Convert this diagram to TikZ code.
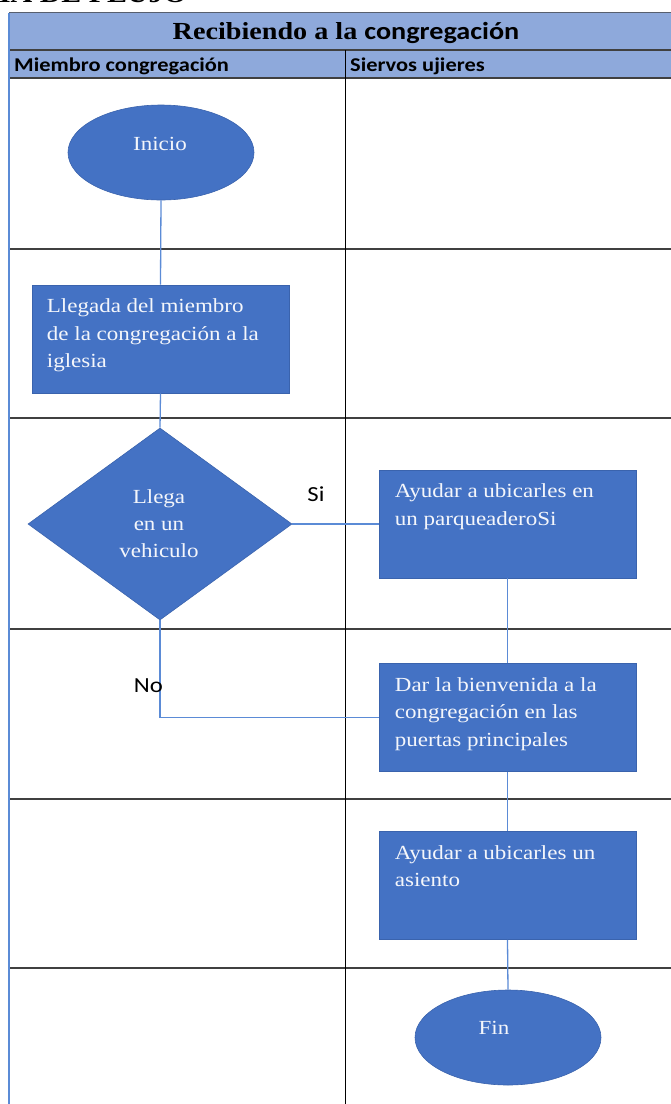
\documentclass[tikz,border=0pt]{standalone}
\usepackage{fontspec}
\setmainfont[FakeStretch=1.15]{Liberation Serif}
\newfontfamily\calibri[FakeStretch=1.15]{Carlito}
\usetikzlibrary{shapes.geometric}
\definecolor{shapeblue}{HTML}{4472C4}
\definecolor{shapeedge}{HTML}{3A63AD}
\definecolor{connblue}{HTML}{5B8BD6}
\definecolor{headblue}{HTML}{8EA9DB}
\definecolor{rowgray}{HTML}{404040}
\definecolor{txtwhite}{HTML}{F4F6FB}
\tikzset{
  proc/.style={draw=shapeedge, line width=0.6pt, fill=shapeblue, rectangle, inner sep=0pt, minimum width=257pt, minimum height=108pt},
  term/.style={draw=shapeedge, line width=0.6pt, fill=shapeblue, ellipse, inner sep=0pt, minimum width=186pt, minimum height=95pt},
  decis/.style={draw=shapeedge, line width=0.6pt, fill=shapeblue, diamond, inner sep=0pt, minimum width=264pt, minimum height=192pt},
  boxtxt/.style={text=txtwhite, font=\fontsize{20}{27.5}\selectfont, align=left, inner sep=0pt, anchor=north west},
  ctxt/.style={text=txtwhite, font=\fontsize{20}{27}\selectfont, align=center, inner sep=0pt},
  conn/.style={draw=connblue, line width=1.3pt},
  rowline/.style={draw=rowgray, line width=2pt},
  lbl/.style={font=\calibri\fontsize{21.5}{23}\selectfont, inner sep=0pt},
  colhead/.style={font=\calibri\bfseries\fontsize{19.5}{21}\selectfont, inner sep=0pt, anchor=base west}
}
\begin{document}
\begin{tikzpicture}[x=1pt,y=-1pt]
\useasboundingbox (0,0) rectangle (670,1104);
% clipped heading above the table
\node[font=\bfseries\fontsize{26}{28}\selectfont, inner sep=0pt, anchor=base east] (doctitle) at (187,2.5) {DIAGRAMA DE FLUJO};
% header rows
\fill[headblue] (9,12.5) rectangle (672,78);
\draw[draw=rowgray!70!headblue, line width=1.2pt] (9,12.5) -- (672,12.5);
\draw[rowline] (9,50) -- (672,50);
\draw[rowline] (9,78) -- (672,78);
\node[font=\bfseries\fontsize{24.5}{26}\selectfont, inner sep=0pt] (title) at (346,33) {Recibiendo a la {\calibri congregación}};
\node[colhead] (col1) at (14,71.5) {Miembro congregación};
\node[colhead] (col2) at (350,71.5) {Siervos ujieres};
% row lines
\foreach \yy in {249,418,629,799,968} {\draw[rowline] (9,\yy) -- (672,\yy);}
% column divider and left border
\draw[black, line width=1.5pt] (345.5,50) -- (345.5,1106);
\draw[connblue, line width=1.5pt] (9,12.5) -- (9,1106);
% shapes
\node[term] (inicio) at (161,152.5) {};
\node[ctxt] (inicioT) at (160,144) {Inicio};
\node[proc] (b1) at (160.5,339) {};
\node[boxtxt] (b1T) at ([xshift=15pt,yshift=-14pt]b1.north west) {Llegada del miembro\\ de la congregación a la\\iglesia};
\node[decis] (dia) at (160,524) {};
\node[ctxt] (diaT) at (159,524) {Llega\\en un\\vehiculo};
\node[proc] (b2) at (507.5,524) {};
\node[boxtxt] (b2T) at ([xshift=16pt,yshift=-14pt]b2.north west) {Ayudar a ubicarles en\\un parqueaderoSi};
\node[proc] (b3) at (507.5,717.5) {};
\node[boxtxt] (b3T) at ([xshift=16pt,yshift=-14pt]b3.north west) {Dar la bienvenida a la\\congregación en las\\puertas principales};
\node[proc] (b4) at (507.5,885.5) {};
\node[boxtxt] (b4T) at ([xshift=16pt,yshift=-14pt]b4.north west) {Ayudar a ubicarles un\\asiento};
\node[term] (fin) at (508,1037.5) {};
\node[ctxt] (finT) at (494,1028) {Fin};
% connectors
\draw[conn] (inicio.south) -- (b1.north);
\draw[conn] (b1.south) -- (dia.north);
\draw[conn] (dia.east) -- (b2.west);
\draw[conn] (b2.south) -- (b3.north);
\draw[conn] (dia.south) |- (b3.west);
\draw[conn] (b3.south) -- (b4.north);
\draw[conn] (b4.south) -- (fin.north);
% labels
\node[lbl] (si) at (316,494) {Si};
\node[lbl, anchor=east] (no) at (163,686) {No};
\end{tikzpicture}
\end{document}
